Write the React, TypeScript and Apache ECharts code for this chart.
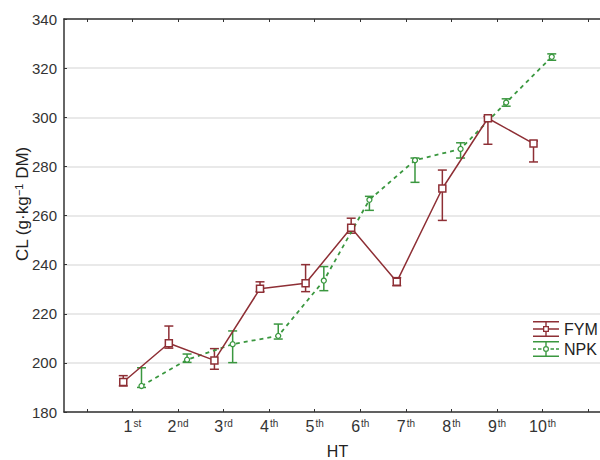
import React, { useEffect, useRef } from "react";
import * as echarts from "echarts";

const harvestNumbers = [1, 2, 3, 4, 5, 6, 7, 8, 9, 10];
const harvestSuffixes = ["st", "nd", "rd", "th", "th", "th", "th", "th", "th", "th"];
const axisTickValues = [0, 1, 2, 3, 4, 5, 6, 7, 8, 9, 10, 11];

const fymMean = [192.2, 208, 201, 230.2, 232.4, 255, 233, 271, 299.6, 289.3];
const fymLow = [190.6, 206, 197.4, 229, 229, 252.8, 231.4, 258, 289, 281.8];
const fymHigh = [194.8, 215, 205.8, 233, 240, 258.9, 234.7, 278.5, 300.3, 290.3];

const npkMean = [190.6, 201.3, 207.6, 211, 233.5, 266.4, 282.5, 287.1, 306, 324.6];
const npkLow = [190, 200.2, 200.1, 209.7, 229.4, 262.1, 273.5, 283.4, 304.5, 323.2];
const npkHigh = [198, 203.6, 213, 215.8, 239.2, 267.8, 283.4, 289.6, 307.5, 325.8];

const FYM_COLOR = "#8e2f35";
const NPK_COLOR = "#3a973f";
const FONT = "'Liberation Sans', Arial, sans-serif";

const FYM_ICON =
  "path://M0,0H26V1.4H0Z M0,14.6H26V16H0Z M0,7.3H10V8.7H0Z M16,7.3H26V8.7H16Z M12.3,1.4H13.7V5H12.3Z M12.3,11H13.7V14.6H12.3Z M10,5H16V11H10Z M11.3,6.3V9.7H14.7V6.3Z";
const NPK_ICON =
  "path://M0,0H26V1.4H0Z M0,14.6H26V16H0Z M0,7.3H3V8.7H0Z M5,7.3H8.5V8.7H5Z M17.5,7.3H21V8.7H17.5Z M23,7.3H26V8.7H23Z M12.3,1.4H13.7V5H12.3Z M12.3,11H13.7V14.6H12.3Z M16,8A3,3 0 1,0 10,8A3,3 0 1,0 16,8Z M14.8,8A1.8,1.8 0 1,1 11.2,8A1.8,1.8 0 1,1 14.8,8Z";

function errorBarRender(color: string) {
  return (params: any, api: any) => {
    const x = api.value(0);
    const lo = api.coord([x, api.value(1)]);
    const hi = api.coord([x, api.value(2)]);
    const w = 4.5;
    const style = { stroke: color, lineWidth: 1.5, fill: "none" };
    return {
      type: "group",
      children: [
        { type: "line", shape: { x1: lo[0], y1: lo[1], x2: hi[0], y2: hi[1] }, style },
        { type: "line", shape: { x1: lo[0] - w, y1: lo[1], x2: lo[0] + w, y2: lo[1] }, style },
        { type: "line", shape: { x1: hi[0] - w, y1: hi[1], x2: hi[0] + w, y2: hi[1] }, style },
      ],
    };
  };
}

export default function App() {
  const ref = useRef<HTMLDivElement>(null);
  useEffect(() => {
    if (!ref.current) return;
    const chart = echarts.init(ref.current, undefined, { renderer: "svg" });
    const fymLine = harvestNumbers.map((h, i) => [h - 0.2, fymMean[i]]);
    const npkLine = harvestNumbers.map((h, i) => [h + 0.2, npkMean[i]]);
    const fymErr = harvestNumbers.map((h, i) => [h - 0.2, fymLow[i], fymHigh[i]]);
    const npkErr = harvestNumbers.map((h, i) => [h + 0.2, npkLow[i], npkHigh[i]]);
    const labelFor = (v: number) => {
      const i = harvestNumbers.indexOf(Math.round(v));
      if (i < 0) return "";
      return `{n|${harvestNumbers[i]}}{s|${harvestSuffixes[i]}}`;
    };
    chart.setOption({
      animation: false,
      backgroundColor: "#ffffff",
      textStyle: { fontFamily: FONT },
      grid: { left: 64, top: 19, width: 547, height: 393, containLabel: false, outerBoundsMode: "none" },
      legend: {
        left: 533,
        top: 321,
        orient: "vertical",
        itemWidth: 26,
        itemHeight: 16,
        itemGap: 4,
        padding: 0,
        textStyle: { fontSize: 16, color: "#222", fontFamily: FONT },
        data: [
          { name: "FYM", icon: FYM_ICON, itemStyle: { color: FYM_COLOR, borderWidth: 0 } },
          { name: "NPK", icon: NPK_ICON, itemStyle: { color: NPK_COLOR, borderWidth: 0 } },
        ],
      },
      xAxis: [
        {
          type: "value",
          min: -0.5,
          max: 11.5,
          position: "bottom",
          name: "HT",
          nameLocation: "middle",
          nameGap: 31,
          nameTextStyle: { fontSize: 16, color: "#222", fontFamily: FONT },
          axisLine: { onZero: false, lineStyle: { color: "#333", width: 1.5 } },
          axisTick: { inside: true, length: 3, customValues: axisTickValues, lineStyle: { color: "#333" } },
          axisLabel: {
            customValues: harvestNumbers,
            formatter: labelFor,
            margin: 6,
            rich: {
              n: { fontSize: 16, color: "#333", fontFamily: FONT },
              s: { fontSize: 10, color: "#333", fontFamily: FONT, verticalAlign: "top", padding: [0, 0, 0, 1] },
            },
          },
          splitLine: { show: false },
        },
        {
          type: "value",
          min: -0.5,
          max: 11.5,
          position: "top",
          axisLine: { show: true, onZero: false, lineStyle: { color: "#333", width: 1.5 } },
          axisTick: { show: true, inside: true, length: 3, customValues: axisTickValues, lineStyle: { color: "#333" } },
          axisLabel: { show: false },
          splitLine: { show: false },
        },
      ],
      yAxis: {
        type: "value",
        min: 180,
        max: 340,
        interval: 20,
        axisLine: { show: true, onZero: false, lineStyle: { color: "#333", width: 1.5 } },
        axisTick: { show: true, inside: true, length: 3, lineStyle: { color: "#333" } },
        axisLabel: { fontSize: 15, color: "#333", margin: 7, fontFamily: FONT },
        splitLine: { show: true, lineStyle: { color: "#e2e2e2", width: 1.5 } },
      },
      graphic: [
        {
          type: "text",
          x: 22,
          y: 204,
          rotation: Math.PI / 2,
          style: {
            text: "{a|CL (g·kg}{b|−1}{a| DM)}",
            textAlign: "center",
            textVerticalAlign: "middle",
            rich: {
              a: { fontSize: 17, fill: "#222", fontFamily: FONT },
              b: { fontSize: 11, fill: "#222", fontFamily: FONT, verticalAlign: "top" },
            },
          },
        },
      ],
      series: [
        {
          name: "FYM err",
          type: "custom",
          xAxisIndex: 0,
          renderItem: errorBarRender(FYM_COLOR),
          encode: { x: 0, y: [1, 2] },
          data: fymErr,
          z: 2,
        },
        {
          name: "NPK err",
          type: "custom",
          xAxisIndex: 0,
          renderItem: errorBarRender(NPK_COLOR),
          encode: { x: 0, y: [1, 2] },
          data: npkErr,
          z: 2,
        },
        {
          name: "NPK",
          type: "line",
          xAxisIndex: 0,
          data: npkLine,
          symbol: "circle",
          symbolSize: 5,
          itemStyle: { color: "#ffffff", borderColor: NPK_COLOR, borderWidth: 1.3 },
          lineStyle: { color: NPK_COLOR, width: 1.8, type: [4, 4] },
          z: 3,
        },
        {
          name: "FYM",
          type: "line",
          xAxisIndex: 0,
          data: fymLine,
          symbol: "rect",
          symbolSize: 7,
          itemStyle: { color: "#ffffff", borderColor: FYM_COLOR, borderWidth: 1.5 },
          lineStyle: { color: FYM_COLOR, width: 1.5 },
          z: 4,
        },
      ],
    });
    return () => chart.dispose();
  }, []);
  return (
    <div
      ref={ref}
      style={{ position: "fixed", left: 0, top: 0, width: 600, height: 460 }}
    />
  );
}
